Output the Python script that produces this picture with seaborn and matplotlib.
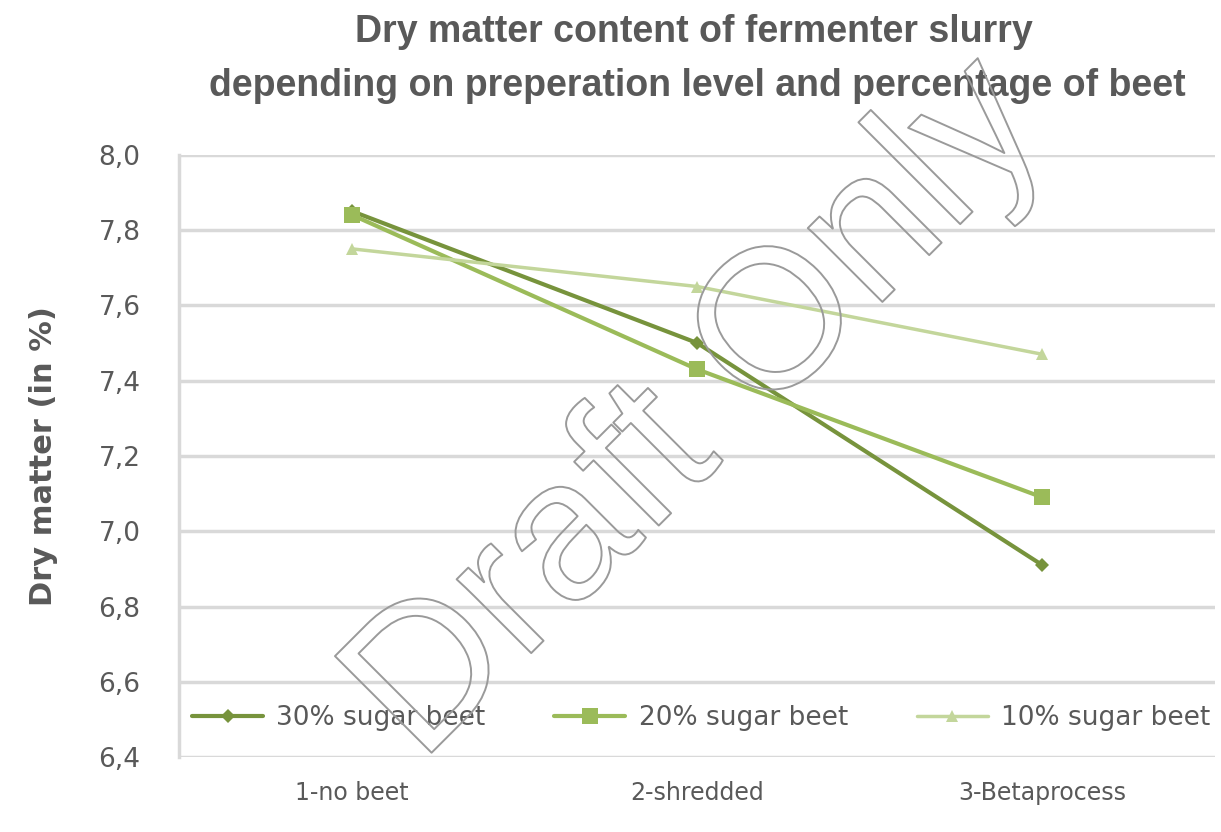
import matplotlib
matplotlib.use("Agg")
import matplotlib.pyplot as plt
import matplotlib.patheffects as pe
import pandas as pd
import seaborn as sns

levels = ["1-no beet", "2-shredded", "3-Betaprocess"]
series = ["30% sugar beet", "20% sugar beet", "10% sugar beet"]
beet30 = [7.85, 7.50, 6.91]
beet20 = [7.84, 7.43, 7.09]
beet10 = [7.75, 7.65, 7.47]
yticks = [6.4, 6.6, 6.8, 7.0, 7.2, 7.4, 7.6, 7.8, 8.0]

COLORS = {"30% sugar beet": "#77933C", "20% sugar beet": "#9BBB59", "10% sugar beet": "#C3D69B"}
MARKERS = {"30% sugar beet": "D", "20% sugar beet": "s", "10% sugar beet": "^"}
SIZES = {"30% sugar beet": 7, "20% sugar beet": 12, "10% sugar beet": 9}
WIDTHS = {"30% sugar beet": 3, "20% sugar beet": 3, "10% sugar beet": 2.5}
TXT = "#595959"
WIDE = ["DejaVu Sans"]


def build():
    data = {"level": [], "dm": [], "series": []}
    for name, vals in zip(series, [beet30, beet20, beet10]):
        for lv, v in zip(levels, vals):
            data["level"].append(lv)
            data["dm"].append(v)
            data["series"].append(name)
    return pd.DataFrame.from_dict(data)


def plot(df):
    sns.set_theme(style="white")
    plt.rcParams["font.family"] = ["Liberation Sans", "DejaVu Sans"]
    fig = plt.figure(figsize=(12.21, 8.32), dpi=100)
    ax = fig.add_axes([0.147, 0.090, 0.848, 0.724])
    for name in series:
        sub = df[df["series"] == name]
        sns.lineplot(x="level", y="dm", data=sub, ax=ax, color=COLORS[name],
                     marker=MARKERS[name], markersize=SIZES[name], linewidth=WIDTHS[name],
                     markeredgewidth=0, label=name, sort=False)
    ax.set_xlim(-0.5, 2.5)
    ax.set_ylim(6.4, 8.0)
    ax.set_yticks(yticks)
    ax.set_yticklabels([f"{t:.1f}".replace(".", ",") for t in yticks], fontsize=19,
                       color=TXT, family=WIDE)
    ax.set_xticks(range(len(levels)))
    ax.set_xticklabels(levels, fontsize=17, color=TXT, family=WIDE)
    ax.tick_params(axis="x", pad=17, length=0)
    ax.tick_params(axis="y", pad=28, length=0)
    ax.yaxis.grid(True, color="#D9D9D9", linewidth=2.5)
    ax.set_axisbelow(True)
    for s in ["top", "right", "bottom"]:
        ax.spines[s].set_visible(False)
    ax.spines["left"].set_color("#D9D9D9")
    ax.spines["left"].set_linewidth(2.5)
    ax.set_xlabel("")
    ax.set_ylabel("Dry matter (in %)", fontsize=22, fontweight="bold", color=TXT,
                  labelpad=29, family=WIDE)
    ax.legend(loc="center left", bbox_to_anchor=(0.012, 0.065), ncol=3, frameon=False,
              prop={"family": WIDE, "size": 19}, labelcolor=TXT, handlelength=2.7,
              handletextpad=0.5, columnspacing=2.6, borderpad=0, borderaxespad=0)
    fig.text(0.568, 0.962, "Dry matter content of fermenter slurry", ha="center", va="center",
             fontsize=27, fontweight="bold", color=TXT)
    fig.text(0.571, 0.897, "depending on preperation level and percentage of beet", ha="center",
             va="center", fontsize=27, fontweight="bold", color=TXT)
    # outlined watermark, interior left transparent
    wm = fig.text(0.573, 0.505, "Draft Only", ha="center", va="center", rotation=45,
                  fontsize=143, color="none", zorder=10)
    wm.set_path_effects([pe.Stroke(linewidth=1.4, foreground="#9A9A9A")])
    fig.savefig("out.png", dpi=100)


def main():
    plot(build())


if __name__ == "__main__":
    main()
